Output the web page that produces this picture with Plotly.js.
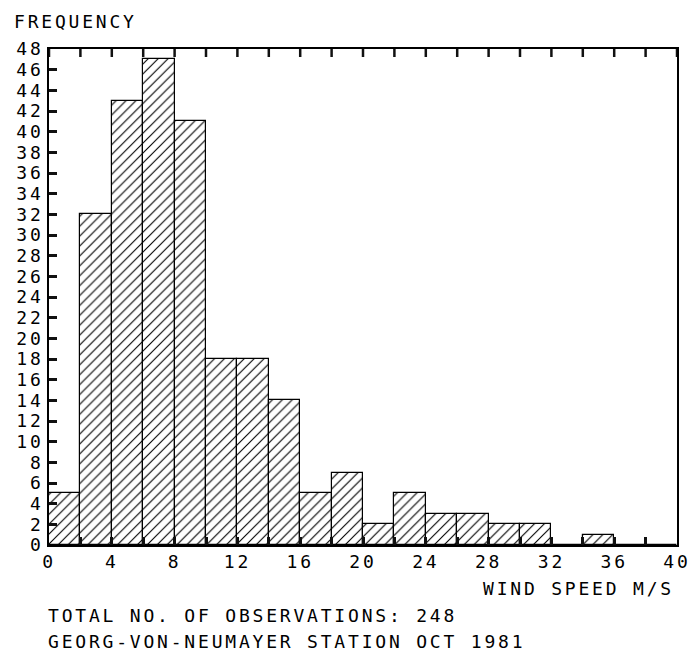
<!DOCTYPE html>
<html>
<head>
<meta charset="utf-8">
<script src="https://cdn.plot.ly/plotly-3.0.1.min.js"></script>
<style>
  html, body { margin: 0; padding: 0; background: #fff; }
  #chart { width: 697px; height: 653px; }
  svg text { letter-spacing: 2.8px; }
</style>
</head>
<body>
<div id="chart"></div>
<script>
// Wind speed bins (lower edge, m/s), each 2 m/s wide
const binStart = [0, 2, 4, 6, 8, 10, 12, 14, 16, 18, 20, 22, 24, 26, 28, 30, 32, 34, 36, 38];
const binWidth = 2;
// Frequency (number of observations) per bin
const frequency = [5, 32, 43, 47, 41, 18, 18, 14, 5, 7, 2, 5, 3, 3, 2, 2, 0, 1, 0, 0];

// Tick marks every 2; x labels every 4
const xTickVals = [0, 2, 4, 6, 8, 10, 12, 14, 16, 18, 20, 22, 24, 26, 28, 30, 32, 34, 36, 38, 40];
const xTickText = ["0", "", "4", "", "8", "", "12", "", "16", "", "20", "", "24", "", "28", "", "32", "", "36", "", "40"];
const yTickVals = [0, 2, 4, 6, 8, 10, 12, 14, 16, 18, 20, 22, 24, 26, 28, 30, 32, 34, 36, 38, 40, 42, 44, 46, 48];

const yTitle = "FREQUENCY";
const xTitle = "WIND SPEED M/S";
const note1 = "TOTAL NO. OF OBSERVATIONS: 248";
const note2 = "GEORG-VON-NEUMAYER STATION OCT 1981";

const FONT = "DejaVu Sans Mono";
const TICKLEN = 8;
const TICKW = 2.5;

const trace = {
  type: "bar",
  x: binStart,
  y: frequency,
  width: binStart.map(() => binWidth),
  offset: 0,
  marker: {
    color: "white",
    line: { color: "black", width: 1.2 },
    pattern: { shape: "/", fgcolor: "black", bgcolor: "white", size: 7, solidity: 0.16, fillmode: "replace" }
  },
  hoverinfo: "skip"
};

const L = 49, R = 20, T = 49, B = 108;
const W = 697 - L - R, H = 653 - T - B;
function px(x) { return (x - L) / W; }
function py(y) { return (653 - B - y) / H; }

// Inward tick marks along the top edge of the frame
const topTicks = xTickVals.map(v => ({
  type: "line", layer: "above", xref: "x", yref: "paper",
  ysizemode: "pixel", yanchor: 1, x0: v, x1: v, y0: 0, y1: -TICKLEN,
  line: { color: "#111111", width: TICKW }
}));

const layout = {
  width: 697, height: 653,
  margin: { l: L, r: R, t: T, b: B, pad: 0 },
  paper_bgcolor: "white",
  plot_bgcolor: "white",
  showlegend: false,
  bargap: 0,
  font: { family: FONT, size: 18, color: "black" },
  xaxis: {
    range: [0, 40],
    tickmode: "array", tickvals: xTickVals, ticktext: xTickText,
    ticks: "inside", ticklen: TICKLEN, tickwidth: TICKW, tickcolor: "#111111",
    showline: true, linecolor: "black", linewidth: 1.5,
    mirror: true,
    showgrid: false, zeroline: false,
    tickfont: { family: FONT, size: 18, color: "black" },
    fixedrange: true
  },
  yaxis: {
    range: [0, 48],
    tickmode: "array", tickvals: yTickVals,
    ticks: "inside", ticklen: TICKLEN, tickwidth: TICKW, tickcolor: "#111111",
    showline: true, linecolor: "black", linewidth: 1.5,
    mirror: true,
    showgrid: false, zeroline: false,
    tickfont: { family: FONT, size: 18, color: "black" },
    fixedrange: true
  },
  shapes: topTicks,
  annotations: [
    { text: yTitle, xref: "paper", yref: "paper", x: px(12), y: py(21), xanchor: "left", yanchor: "middle", showarrow: false, font: { family: FONT, size: 18, color: "black" } },
    { text: xTitle, xref: "paper", yref: "paper", x: px(481), y: py(588), xanchor: "left", yanchor: "middle", showarrow: false, font: { family: FONT, size: 18, color: "black" } },
    { text: note1, xref: "paper", yref: "paper", x: px(46), y: py(615), xanchor: "left", yanchor: "middle", showarrow: false, font: { family: FONT, size: 18, color: "black" } },
    { text: note2, xref: "paper", yref: "paper", x: px(46), y: py(641), xanchor: "left", yanchor: "middle", showarrow: false, font: { family: FONT, size: 18, color: "black" } }
  ]
};

Plotly.newPlot("chart", [trace], layout, { displayModeBar: false });
</script>
</body>
</html>
